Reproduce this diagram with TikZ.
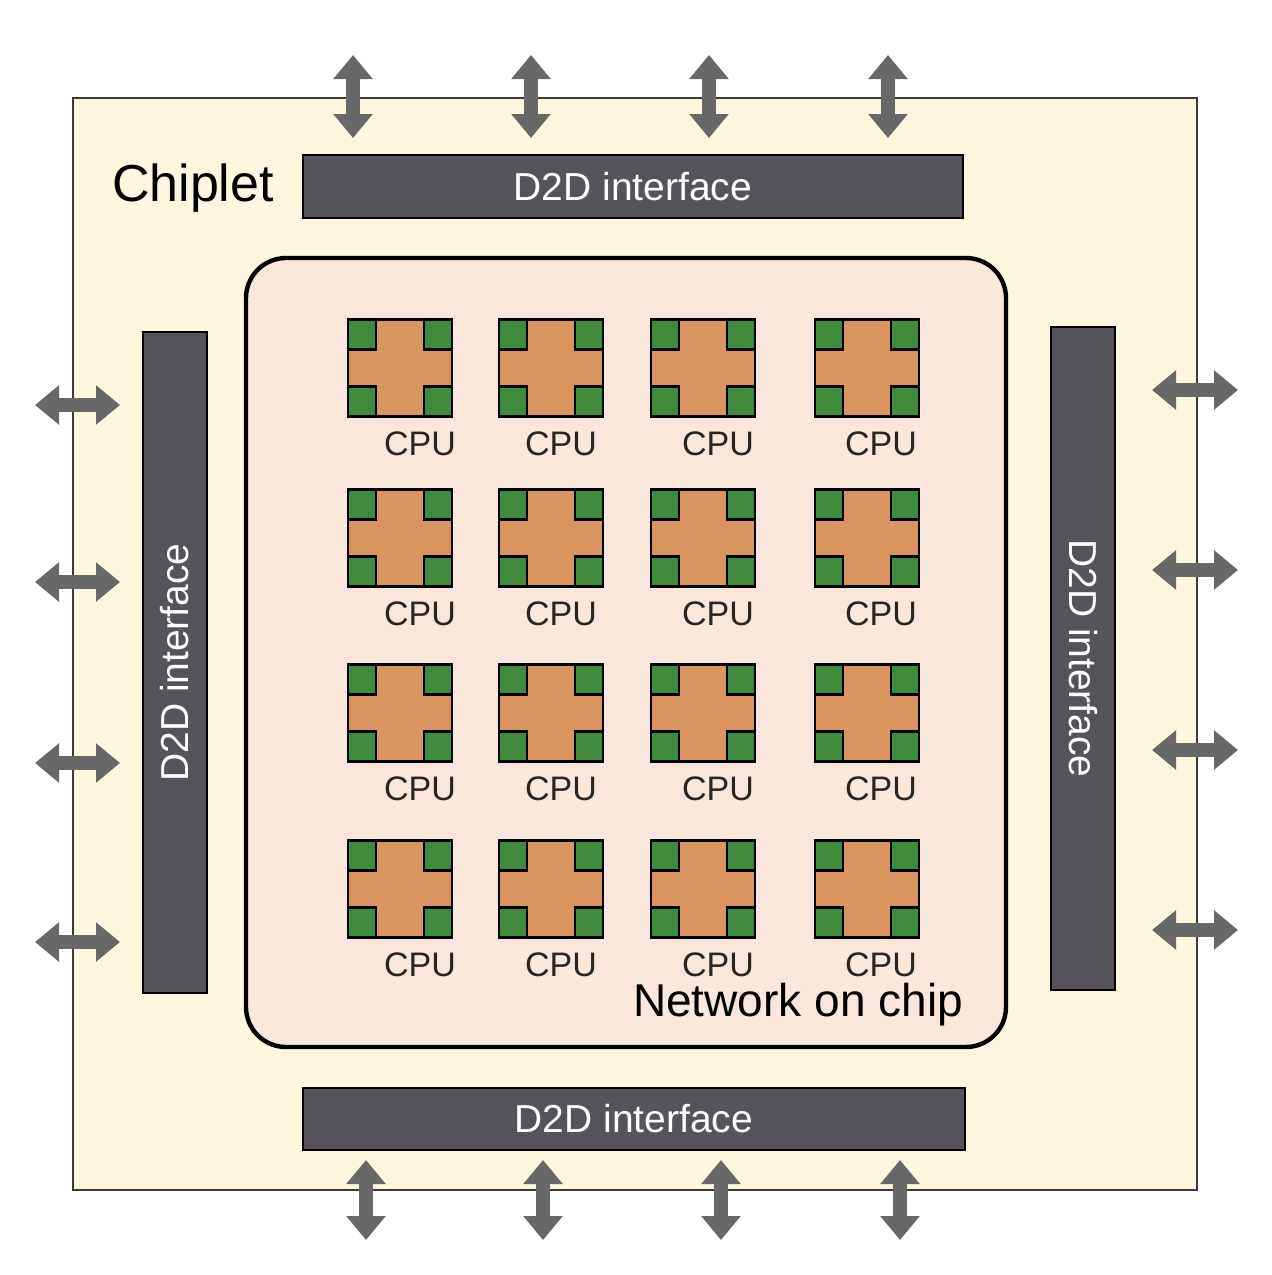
\documentclass[tikz,border=0pt]{standalone}
\usepackage{fontspec}
\setmainfont{Liberation Sans}
\usetikzlibrary{arrows.meta,calc}
\definecolor{cream}{HTML}{FEF6DE}
\definecolor{nocfill}{HTML}{FAE7DB}
\definecolor{bargray}{HTML}{57535A}
\definecolor{arrgray}{HTML}{686868}
\definecolor{cpuorange}{HTML}{DA955E}
\definecolor{padgreen}{HTML}{3F8B3B}
\definecolor{edgegray}{HTML}{3A3A3A}
\tikzset{
  io/.style={draw=arrgray, line width=7pt,
    {Triangle[width=19pt,length=12pt]}-{Triangle[width=19pt,length=12pt]}},
  bar/.style={draw=black, fill=bargray, line width=1.2pt, text=white,
    font=\fontsize{19.5}{22}\selectfont, inner sep=0pt, outer sep=0pt},
  cpu/.style={draw=black, fill=cpuorange, line width=1.4pt,
    minimum width=52pt, minimum height=48.5pt, inner sep=0pt, outer sep=0pt},
  pad/.style={draw=black, fill=padgreen, line width=1.4pt},
  cpulabel/.style={font=\fontsize{17}{19}\selectfont, text=black!85},
}
\begin{document}
\begin{tikzpicture}[x=0.5pt,y=-0.5pt]
\useasboundingbox (0,0) rectangle (1271,1275);
\fill[white] (0,0) rectangle (1271,1275);
% chiplet outline
\node[draw=edgegray, fill=cream, line width=1.2pt, minimum width=562pt,
  minimum height=546pt, inner sep=0pt, outer sep=0pt] (chip) at (635,644) {};
\node[font=\fontsize{26}{30}\selectfont] (chiplabel) at (193,188) {Chiplet};
% network on chip
\node[draw=black, fill=nocfill, line width=2.2pt, rounded corners=20pt,
  minimum width=380pt, minimum height=394.5pt, inner sep=0pt, outer sep=0pt] (noc) at (626,652.5) {};
\node[font=\fontsize{23}{27}\selectfont, anchor=east] (noclabel) at (970,1005) {Network on chip};
% D2D bars
\node[bar, minimum width=330pt, minimum height=31.5pt] (topbar) at (633,186.5) {D2D interface};
\node[bar, minimum width=331pt, minimum height=31pt] (botbar) at (634,1119) {D2D interface};
\node[bar, rotate=90, minimum width=330.5pt, minimum height=32pt] (leftbar) at (175,662.5) {D2D interface};
\node[bar, rotate=-90, minimum width=331.5pt, minimum height=32pt] (rightbar) at (1083,658.5) {D2D interface};
% CPUs
\foreach \cx/\dx [count=\i] in {400/20,551/10,703/15,867/14}{
  \foreach \cy [count=\j] in {368,538,713,889}{
    \node[cpu] (cpu\i\j) at (\cx,\cy) {};
    \draw[pad] (cpu\i\j.north west) rectangle ++(28,30);
    \draw[pad] (cpu\i\j.north east) rectangle ++(-28,30);
    \draw[pad] (cpu\i\j.south west) rectangle ++(28,-30);
    \draw[pad] (cpu\i\j.south east) rectangle ++(-28,-30);
    \node[cpulabel] (cpulabel\i\j) at ($(cpu\i\j.south)+(\dx,27)$) {CPU};
  }
}
% I/O arrows
\foreach \x [count=\k] in {353,531,709,888}{
  \coordinate (ta\k) at (\x,55); \coordinate (tb\k) at (\x,138);
  \draw[io] (ta\k) -- (tb\k);
}
\foreach \x [count=\k] in {366,543,721,900}{
  \coordinate (ba\k) at (\x,1160); \coordinate (bb\k) at (\x,1240);
  \draw[io] (ba\k) -- (bb\k);
}
\foreach \y [count=\k] in {405,582,763,942}{
  \coordinate (la\k) at (35,\y); \coordinate (lb\k) at (120,\y);
  \draw[io] (la\k) -- (lb\k);
}
\foreach \y [count=\k] in {390,570,750,930}{
  \coordinate (ra\k) at (1152,\y); \coordinate (rb\k) at (1238,\y);
  \draw[io] (ra\k) -- (rb\k);
}
\end{tikzpicture}
\end{document}
